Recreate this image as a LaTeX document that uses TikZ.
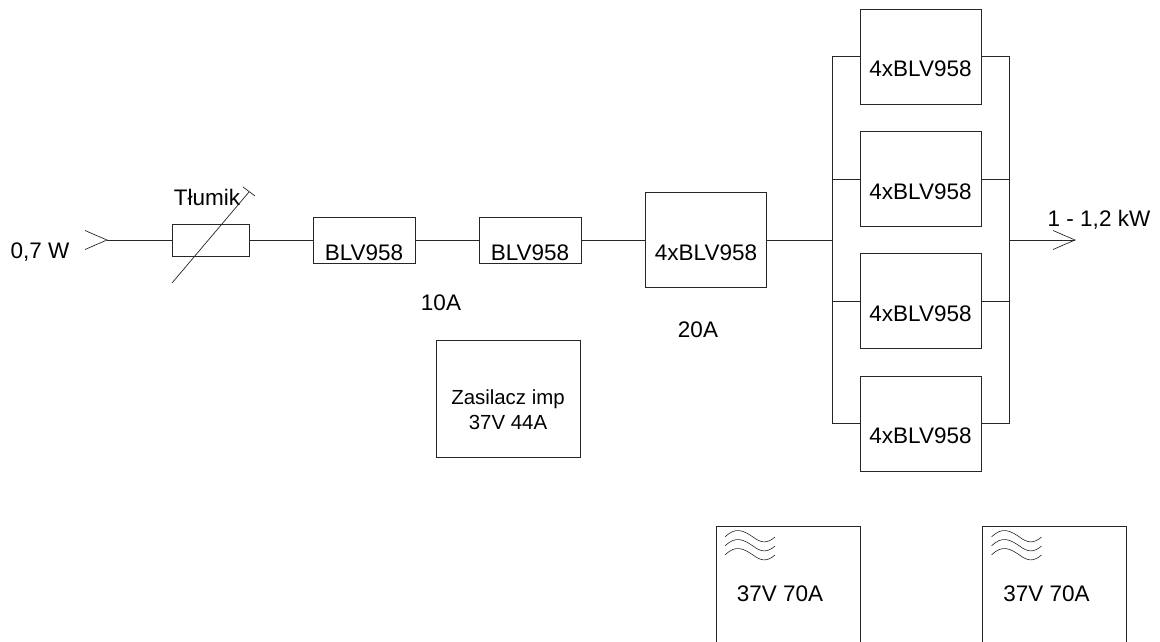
\documentclass[tikz,border=0pt]{standalone}
\usepackage{fontspec}
\setmainfont{Liberation Sans}
\tikzset{
  wire/.style={line width=0.9pt, black!85},
  blok/.style={draw=black!85, line width=0.9pt, fill=white, inner sep=0pt},
  wzm/.style={blok, minimum width=102pt, minimum height=46pt,
    label={[napis, yshift=-12.5pt]center:BLV958}},
  wzmq/.style={blok, minimum width=121pt, minimum height=95pt,
    label={[napis, yshift=-12.5pt]center:4xBLV958}},
  napis/.style={font=\fontsize{22.5}{27}\selectfont, inner sep=0pt},
  maly/.style={font=\fontsize{20.4}{25}\selectfont, align=center, inner sep=0pt},
}
\begin{document}
\begin{tikzpicture}[x=1pt, y=-1pt]
  \useasboundingbox (0,0) rectangle (1160,642);

  % ========== tor sygnalu ==========
  \coordinate (wej) at (107,240);
  \coordinate (busL) at (832,240);
  \coordinate (busR) at (1009,240);
  \coordinate (wyj) at (1075,240);

  \node[blok, minimum width=77pt, minimum height=32pt] (tlumik) at (210.5,240) {};
  \node[wzm] (blv1) at (364,240) {};
  \node[wzm] (blv2) at (530,240) {};
  \node[wzmq] (blv3) at (706,240) {};

  \draw[wire] (wej) -- (tlumik) -- (blv1) -- (blv2) -- (blv3) -- (busL);

  % czworka rownolegla
  \node[wzmq] (pa1) at (920.5,56.5) {};
  \node[wzmq] (pa2) at (920.5,179) {};
  \node[wzmq] (pa3) at (920.5,301) {};
  \node[wzmq] (pa4) at (920.5,423.5) {};

  \foreach \i in {1,2,3,4} {
    \draw[wire] (pa\i.west) -| (busL);
    \draw[wire] (pa\i.east) -| (busR);
  }
  \draw[wire] (busR) -- (wyj);

  % groty na wejsciu i wyjsciu
  \draw[wire, line width=0.7pt] (wej) ++(-22,-9.5) -- (wej) -- ++(-22,9.5);
  \draw[wire, line width=0.7pt] (wyj) ++(-22,-9.5) -- (wyj) -- ++(-22,9.5);

  % skos tlumika
  \coordinate (skosA) at (172,283);
  \coordinate (skosB) at (249,192);
  \draw[wire, line width=0.7pt] (skosA) -- (skosB);
  \draw[wire, line width=0.7pt] (243,187) -- (255,196);

  % ========== opisy ==========
  \node[napis] (moc) at (40,252.5) {0,7 W};
  \node[napis] (tlum) at (207,197) {Tłumik};
  \node[napis] (prad1) at (441,303) {10A};
  \node[napis] (prad2) at (698,330) {20A};
  \node[napis] (mocwy) at (1099,219.5) {1 - 1,2 kW};

  % ========== zasilacze ==========
  \node[blok, minimum width=144pt, minimum height=117pt, label={[maly, yshift=-11.5pt]center:Zasilacz imp\\37V 44A}] (zas) at (508,398.5) {};

  \foreach \x/\n in {716/zasA, 982.5/zasB} {
    \begin{scope}[xshift=\x pt]
      % dol ramki ucina brzeg rysunku
      \draw[wire] (0,642) -- (0,526) -- (144,526) -- (144,642);
      \foreach \y in {0,9,18}
        \draw[wire, line width=0.6pt] (9,537+\y) .. controls (20,526+\y) and (28,531+\y) .. (37,537+\y)
          .. controls (45,543+\y) and (51,544+\y) .. (59,537+\y);
      \node[napis] (\n) at (64,594) {37V 70A};
    \end{scope}
  }
\end{tikzpicture}
\end{document}
